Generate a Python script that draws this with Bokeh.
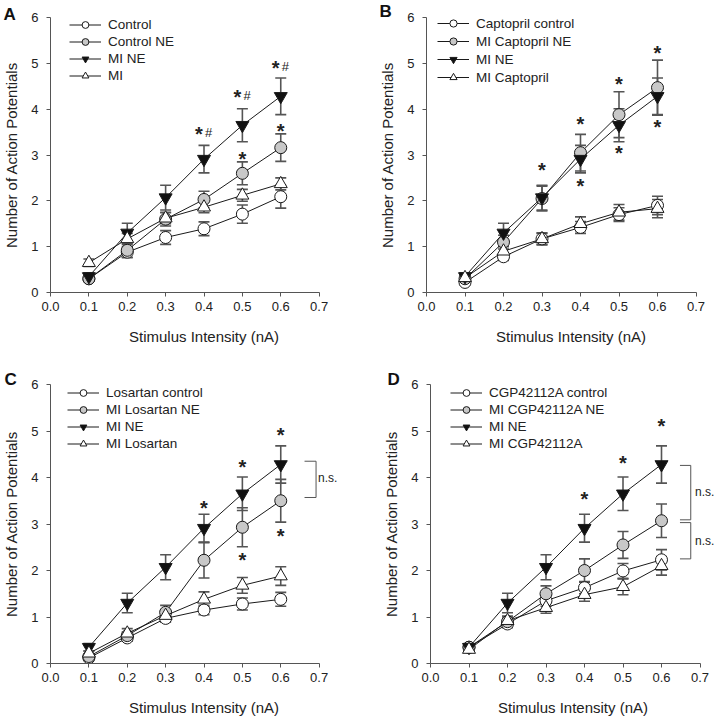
from bokeh.plotting import figure
from bokeh.models import (Range1d, FixedTicker, PrintfTickFormatter, ColumnDataSource,
                          Whisker, TeeHead, Legend, LegendItem, LabelSet, Title)
from bokeh.core.properties import value
from bokeh.layouts import row, column
from bokeh.embed import file_html
from bokeh.resources import INLINE

# ---------------- data ----------------
x_vals = [0.1, 0.2, 0.3, 0.4, 0.5, 0.6]
x_ticks = [0.0, 0.1, 0.2, 0.3, 0.4, 0.5, 0.6, 0.7]
y_ticks = [0, 1, 2, 3, 4, 5, 6]
x_title = "Stimulus Intensity (nA)"
y_title = "Number of Action Potentials"

# common series (MI NE) shown in every panel
mi_ne_mean = [0.35, 1.30, 2.07, 2.91, 3.65, 4.28]
mi_ne_sem = [0.08, 0.21, 0.27, 0.30, 0.36, 0.40]

# Panel A
a_labels = ["Control", "Control NE", "MI NE", "MI"]
a_control_mean = [0.30, 0.88, 1.20, 1.39, 1.71, 2.09]
a_control_sem = [0.05, 0.12, 0.15, 0.15, 0.20, 0.25]
a_control_ne_mean = [0.30, 0.92, 1.60, 2.03, 2.60, 3.16]
a_control_ne_sem = [0.05, 0.15, 0.15, 0.18, 0.25, 0.30]
a_mi_mean = [0.65, 1.17, 1.62, 1.86, 2.12, 2.37]
a_mi_sem = [0.08, 0.12, 0.12, 0.12, 0.13, 0.13]
a_starhash_x = [0.4, 0.5, 0.6]
a_starhash_y = [3.51, 4.33, 4.95]
a_star_x = [0.5, 0.6]
a_star_y = [2.96, 3.57]

# Panel B
b_labels = ["Captopril control", "MI Captopril NE", "MI NE", "MI Captopril"]
b_control_mean = [0.22, 0.78, 1.17, 1.42, 1.70, 1.90]
b_control_sem = [0.05, 0.08, 0.12, 0.13, 0.15, 0.20]
b_ne_mean = [0.30, 1.10, 2.05, 3.05, 3.88, 4.47]
b_ne_sem = [0.06, 0.15, 0.27, 0.40, 0.50, 0.60]
b_mi_mean = [0.32, 0.90, 1.17, 1.50, 1.75, 1.83]
b_mi_sem = [0.05, 0.10, 0.13, 0.15, 0.17, 0.20]
b_star_x = [0.3, 0.4, 0.5, 0.6, 0.4, 0.5, 0.6]
b_star_y = [2.73, 3.73, 4.60, 5.28, 2.37, 3.09, 3.66]

# Panel C
c_labels = ["Losartan control", "MI Losartan NE", "MI NE", "MI Losartan"]
c_control_mean = [0.12, 0.55, 0.97, 1.15, 1.28, 1.38]
c_control_sem = [0.04, 0.07, 0.08, 0.10, 0.13, 0.15]
c_ne_mean = [0.15, 0.60, 1.10, 2.22, 2.93, 3.50]
c_ne_sem = [0.05, 0.08, 0.15, 0.38, 0.42, 0.46]
c_mi_mean = [0.22, 0.65, 1.03, 1.38, 1.68, 1.88]
c_mi_sem = [0.05, 0.10, 0.10, 0.16, 0.17, 0.20]
c_star_x = [0.4, 0.5, 0.6, 0.5, 0.6]
c_star_y = [3.40, 4.29, 4.96, 2.27, 2.79]
c_bracket_x0 = [0.662]
c_bracket_x1 = [0.692]
c_bracket_top = [4.35]
c_bracket_bot = [3.57]
c_ns_x = [0.697]
c_ns_y = [4.0]

# Panel D
d_labels = ["CGP42112A control", "MI CGP42112A NE", "MI NE", "MI CGP42112A"]
d_control_mean = [0.35, 0.85, 1.35, 1.63, 1.99, 2.23]
d_control_sem = [0.06, 0.08, 0.12, 0.13, 0.16, 0.22]
d_ne_mean = [0.35, 0.90, 1.50, 2.00, 2.55, 3.07]
d_ne_sem = [0.06, 0.10, 0.17, 0.25, 0.29, 0.36]
d_mi_mean = [0.30, 0.92, 1.20, 1.48, 1.65, 2.10]
d_mi_sem = [0.05, 0.10, 0.12, 0.14, 0.17, 0.20]
d_star_x = [0.4, 0.5, 0.6]
d_star_y = [3.60, 4.37, 5.16]
d_bracket_x0 = [0.648, 0.648]
d_bracket_x1 = [0.676, 0.676]
d_bracket_top = [4.26, 3.03]
d_bracket_bot = [3.09, 2.25]
d_ns_x = [0.687, 0.687]
d_ns_y = [3.68, 2.63]

# ---------------- styling ----------------
FONT = "Liberation Sans"
TXT = "#222222"
AXC = "#555555"
LINEC = "#1a1a1a"
ERRC = "#555555"

STYLES = {
    "open_circle": dict(marker="circle", size=12, fill_color="white"),
    "grey_circle": dict(marker="circle", size=12, fill_color="#c8c8c8"),
    "down_tri": dict(marker="inverted_triangle", size=13, fill_color="#111111"),
    "open_tri": dict(marker="triangle", size=13, fill_color="white"),
}

W, H = 358, 360
PX_PER_UNIT = 385.0   # horizontal scale: 0.7 spans ~270 px


def make_panel(letter, labels, means, sems, styles, borders, legend_cfg, letter_cfg,
               star_x, star_y, starhash=None, brackets=None, ns=None):
    left, right, top, bottom = borders
    frame_h = H - top - bottom
    x_end = (W - left - right) / PX_PER_UNIT
    p = figure(width=W, height=H, title=None,
               x_range=Range1d(0, x_end), y_range=Range1d(0, 6),
               output_backend="svg", toolbar_location=None,
               min_border_left=left, min_border_right=right,
               min_border_top=top, min_border_bottom=bottom)
    p.outline_line_color = None
    p.xgrid.visible = False
    p.ygrid.visible = False
    p.background_fill_color = "white"
    p.border_fill_color = "white"

    for ax in (p.xaxis[0], p.yaxis[0]):
        ax.axis_line_color = AXC
        ax.major_tick_line_color = AXC
        ax.minor_tick_line_color = None
        ax.major_tick_out = 4
        ax.major_tick_in = 0
        ax.major_label_text_font = FONT
        ax.major_label_text_color = TXT
        ax.axis_label_text_font = FONT
        ax.axis_label_text_font_style = "normal"
        ax.axis_label_text_color = TXT
        ax.axis_label_text_font_size = "15px"
        ax.major_label_text_font_size = "13px"

    p.xaxis.ticker = FixedTicker(ticks=x_ticks)
    p.xaxis.formatter = PrintfTickFormatter(format="%.1f")
    p.xaxis.bounds = (x_ticks[0], x_ticks[-1])
    p.xaxis.axis_label = x_title
    p.xaxis.major_label_standoff = 5
    p.xaxis.axis_label_standoff = 14

    p.yaxis.ticker = FixedTicker(ticks=y_ticks)
    p.yaxis.formatter = PrintfTickFormatter(format="%d")
    p.yaxis.bounds = (y_ticks[0], y_ticks[-1])
    p.yaxis.axis_label = y_title
    p.yaxis.major_label_standoff = 8
    p.yaxis.axis_label_standoff = 8

    items = []
    for lab, m, s, st in zip(labels, means, sems, styles):
        src = ColumnDataSource(dict(x=x_vals, y=m,
                                    upper=[a + b for a, b in zip(m, s)],
                                    lower=[a - b for a, b in zip(m, s)]))
        w = Whisker(base="x", upper="upper", lower="lower", source=src,
                    line_color=ERRC, line_width=1.6,
                    upper_head=TeeHead(size=11, line_color=ERRC, line_width=1.6),
                    lower_head=TeeHead(size=11, line_color=ERRC, line_width=1.6))
        p.add_layout(w)
        lr = p.line("x", "y", source=src, line_color=LINEC, line_width=1)
        sty = STYLES[st]
        sr = p.scatter("x", "y", source=src, marker=sty["marker"], size=sty["size"],
                       fill_color=sty["fill_color"], line_color=LINEC, line_width=1)
        items.append(LegendItem(label=lab, renderers=[lr, sr]))

    vx, top_off, rh = legend_cfg
    n = len(items)
    leg = Legend(items=items, location=(vx, frame_h - top_off - rh * n),
                 orientation="vertical", glyph_width=32, glyph_height=rh,
                 label_height=rh, label_standoff=7, spacing=0, padding=0, margin=0,
                 border_line_color=None, background_fill_alpha=0,
                 label_text_font=FONT, label_text_font_size="13.5px",
                 label_text_color=TXT)
    p.add_layout(leg)

    star_kw = dict(text_font=value(FONT), text_font_size=value("20px"),
                   text_font_style="bold", text_color=TXT,
                   text_align="center", text_baseline="alphabetic")
    if star_x:
        ssrc = ColumnDataSource(dict(x=star_x, y=star_y, t=["*"] * len(star_x)))
        p.add_layout(LabelSet(x="x", y="y", text="t", source=ssrc,
                              y_offset=-9.5, **star_kw))
    if starhash:
        hx, hy = starhash
        hsrc = ColumnDataSource(dict(x=hx, y=hy, t=["*"] * len(hx), h=["#"] * len(hx)))
        p.add_layout(LabelSet(x="x", y="y", text="t", source=hsrc,
                              x_offset=-5, y_offset=-9.5, **star_kw))
        p.add_layout(LabelSet(x="x", y="y", text="h", source=hsrc,
                              text_font=value(FONT), text_font_size=value("13px"),
                              text_color=TXT, text_align="left",
                              text_baseline="alphabetic", x_offset=1, y_offset=-5.5))

    if brackets:
        bx0, bx1, bt, bb = brackets
        for a0, a1, t, b in zip(bx0, bx1, bt, bb):
            p.line(x=[a0, a1, a1, a0], y=[t, t, b, b], line_color=AXC, line_width=1)
    if ns:
        nx, ny = ns
        nsrc = ColumnDataSource(dict(x=nx, y=ny, t=["n.s."] * len(nx)))
        p.add_layout(LabelSet(x="x", y="y", text="t", source=nsrc,
                              text_font=value(FONT), text_font_size=value("12px"),
                              text_color=TXT, text_align="left",
                              text_baseline="middle"))

    off, standoff = letter_cfg
    p.add_layout(Title(text=letter, align="left", offset=off, standoff=standoff,
                       vertical_align="bottom", text_font=FONT, text_font_size="17px",
                       text_font_style="bold", text_color="#111111"), "above")
    return p


styles = ["open_circle", "grey_circle", "down_tri", "open_tri"]

pA = make_panel("A", a_labels,
                [a_control_mean, a_control_ne_mean, mi_ne_mean, a_mi_mean],
                [a_control_sem, a_control_ne_sem, mi_ne_sem, a_mi_sem],
                styles, (49, 1, 14, 68), (19, 1.5, 17), (-47, -13),
                a_star_x, a_star_y, starhash=(a_starhash_x, a_starhash_y))

pB = make_panel("B", b_labels,
                [b_control_mean, b_ne_mean, mi_ne_mean, b_mi_mean],
                [b_control_sem, b_ne_sem, mi_ne_sem, b_mi_sem],
                styles, (68, 1, 17, 65), (11, 0, 18), (-47, -7),
                b_star_x, b_star_y)

pC = make_panel("C", c_labels,
                [c_control_mean, c_ne_mean, mi_ne_mean, c_mi_mean],
                [c_control_sem, c_ne_sem, mi_ne_sem, c_mi_sem],
                styles, (49, 1, 24, 57), (17, 0, 17), (-46, -9),
                c_star_x, c_star_y,
                brackets=(c_bracket_x0, c_bracket_x1, c_bracket_top, c_bracket_bot),
                ns=(c_ns_x, c_ns_y))

pD = make_panel("D", d_labels,
                [d_control_mean, d_ne_mean, mi_ne_mean, d_mi_mean],
                [d_control_sem, d_ne_sem, mi_ne_sem, d_mi_sem],
                styles, (72, 1, 24, 57), (20, 0, 17), (-43, -9),
                d_star_x, d_star_y,
                brackets=(d_bracket_x0, d_bracket_x1, d_bracket_top, d_bracket_bot),
                ns=(d_ns_x, d_ns_y))

layout = column(row(pA, pB), row(pC, pD))
open("out.html", "w").write(file_html(layout, INLINE))
